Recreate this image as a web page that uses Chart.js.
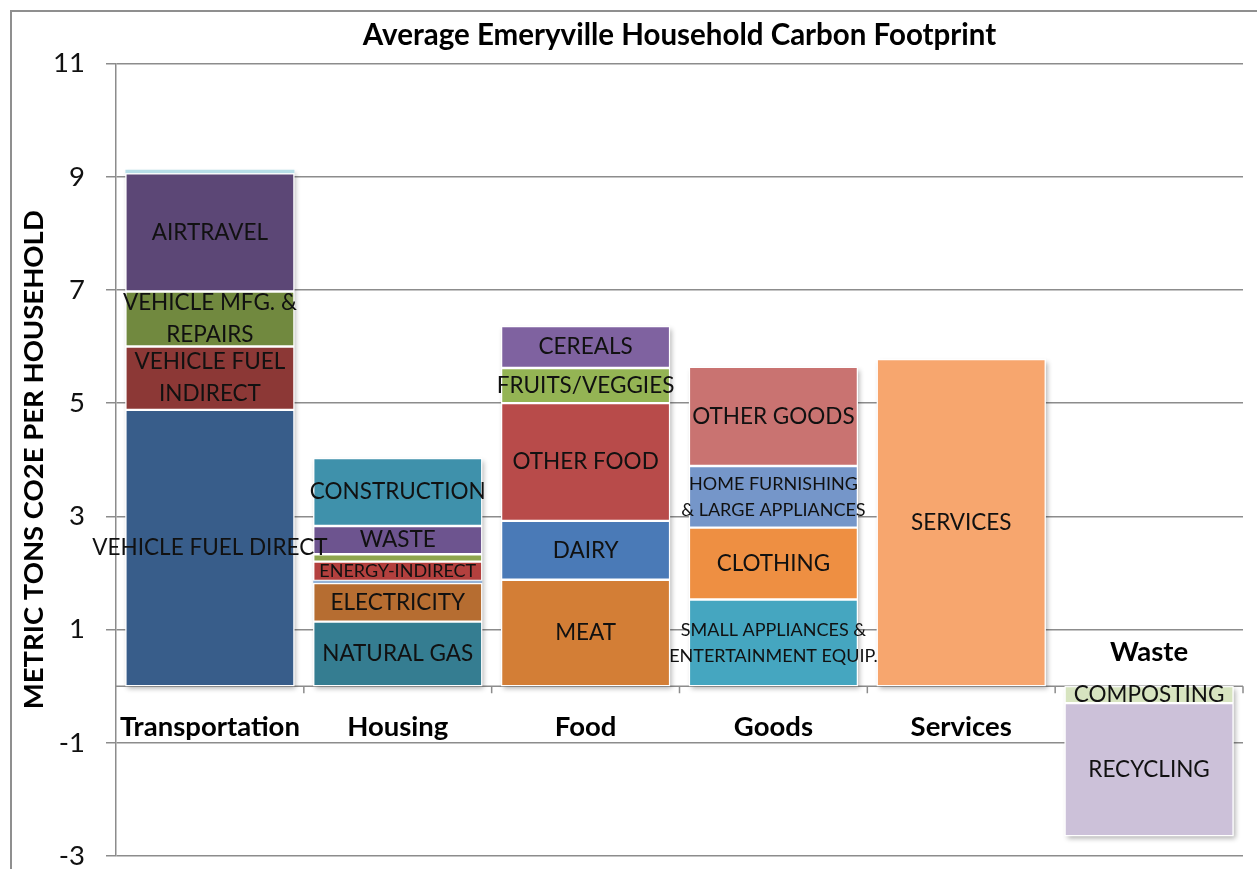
<!DOCTYPE html>
<html>
<head>
<meta charset="utf-8">
<title>Average Emeryville Household Carbon Footprint</title>
<script src="https://cdn.jsdelivr.net/npm/chart.js@4.4.1/dist/chart.umd.min.js"></script>
<style>
  html, body { margin: 0; padding: 0; background: #fff; }
  #wrap { width: 1257px; height: 869px; }
</style>
</head>
<body>
<div id="wrap"><canvas id="footprintChart"></canvas></div>
<script>
// Categories along the x axis
const categories = ['Transportation', 'Housing', 'Food', 'Goods', 'Services', 'Waste'];

// Stacked segments: name, category index and size (metric tons CO2e per household)
const segmentNames = [
    'VEHICLE FUEL DIRECT', 'VEHICLE FUEL\nINDIRECT', 'VEHICLE MFG. &\nREPAIRS', 'AIRTRAVEL', '',
    'NATURAL GAS', 'ELECTRICITY', '', 'ENERGY-INDIRECT', '', 'WASTE', 'CONSTRUCTION',
    'MEAT', 'DAIRY', 'OTHER FOOD', 'FRUITS/VEGGIES', 'CEREALS',
    'SMALL APPLIANCES &\nENTERTAINMENT EQUIP.', 'CLOTHING', 'HOME FURNISHING\n& LARGE APPLIANCES', 'OTHER GOODS',
    'SERVICES',
    'COMPOSTING', 'RECYCLING'
];
const segmentCategory = [0, 0, 0, 0, 0, 1, 1, 1, 1, 1, 1, 1, 2, 2, 2, 2, 2, 3, 3, 3, 3, 4, 5, 5];
const segmentValues = [
    4.88, 1.12, 0.97, 2.09, 0.06,
    1.14, 0.68, 0.04, 0.34, 0.13, 0.50, 1.20,
    1.88, 1.04, 2.08, 0.62, 0.74,
    1.53, 1.27, 1.09, 1.75,
    5.78,
    -0.30, -2.35
];

// Y axis range and tick step
const yMin = -3;
const yMax = 11;
const yStep = 2;

// Styling
const segmentColors = [
    '#385d8a', '#8c3836', '#71893f', '#5c4776', '#b7dee8',
    '#357d91', '#b66d31', '#95b3d7', '#b3403e', '#8ea54e', '#6d548f', '#3f91ab',
    '#d37e36', '#4a7ab7', '#b84b4a', '#94b454', '#7f62a0',
    '#45a6c0', '#ee8f42', '#7596c9', '#c97371',
    '#f7a66e',
    '#d7e4c0', '#ccc1d9'
];
const smallLabels = ['ENERGY-INDIRECT', 'SMALL APPLIANCES &\nENTERTAINMENT EQUIP.', 'HOME FURNISHING\n& LARGE APPLIANCES'];
const gridColor = '#8c8c8c';
const fontFamily = 'Lato, "Open Sans", sans-serif';

// One dataset per segment, holding a value only in its own category
const datasets = segmentNames.map((name, i) => ({
    label: name,
    data: categories.map((c, j) => (j === segmentCategory[i] ? segmentValues[i] : null)),
    backgroundColor: segmentColors[i],
    borderColor: '#ffffff',
    borderWidth: Math.abs(segmentValues[i]) < 0.1 ? 0 : 1.2,
    borderSkipped: false,
    barPercentage: 0.9,
    categoryPercentage: 1.0,
    stack: 'total'
}));

// Grey frame around the whole chart
const framePlugin = {
    id: 'frame',
    beforeDraw(chart) {
        const ctx = chart.ctx;
        ctx.save();
        ctx.strokeStyle = '#8f8f8f';
        ctx.lineWidth = 2;
        ctx.strokeRect(11, 11, chart.width + 20, chart.height + 20);
        ctx.restore();
    }
};

// Zero line with category tick marks, plus a soft shadow behind each stacked bar
const zeroAxisPlugin = {
    id: 'zeroAxis',
    beforeDatasetsDraw(chart) {
        const { ctx, chartArea, scales: { x, y } } = chart;
        const zero = y.getPixelForValue(0);
        ctx.save();
        ctx.strokeStyle = gridColor;
        ctx.lineWidth = 1.5;
        ctx.beginPath();
        ctx.moveTo(chartArea.left, zero);
        ctx.lineTo(chartArea.right, zero);
        for (let j = 1; j <= categories.length; j++) {
            const bx = j === categories.length
                ? chartArea.right
                : (x.getPixelForValue(j - 1) + x.getPixelForValue(j)) / 2;
            ctx.moveTo(bx, zero);
            ctx.lineTo(bx, zero + 7);
        }
        ctx.stroke();

        ctx.shadowColor = 'rgba(0, 0, 0, 0.3)';
        ctx.shadowBlur = 5;
        ctx.shadowOffsetX = 2;
        ctx.shadowOffsetY = 3;
        ctx.fillStyle = '#ffffff';
        categories.forEach((c, j) => {
            let top = Infinity, bottom = -Infinity, left = 0, right = 0;
            chart.data.datasets.forEach((ds, i) => {
                if (segmentCategory[i] !== j) return;
                const bar = chart.getDatasetMeta(i).data[j];
                top = Math.min(top, bar.y, bar.base);
                bottom = Math.max(bottom, bar.y, bar.base);
                left = bar.x - bar.width / 2;
                right = bar.x + bar.width / 2;
            });
            ctx.fillRect(left, top, right - left, bottom - top);
        });
        ctx.restore();
    }
};

// Segment names written in the middle of each segment
const segmentLabelPlugin = {
    id: 'segmentLabels',
    afterDatasetsDraw(chart) {
        const ctx = chart.ctx;
        ctx.save();
        ctx.fillStyle = '#111111';
        ctx.textAlign = 'center';
        ctx.textBaseline = 'middle';
        chart.data.datasets.forEach((ds, i) => {
            if (!ds.label) return;
            const bar = chart.getDatasetMeta(i).data[segmentCategory[i]];
            const small = smallLabels.includes(ds.label);
            const lineGap = small ? 26 : 32;
            ctx.font = (small ? 18 : 22.5) + 'px ' + fontFamily;
            const lines = ds.label.split('\n');
            const cy = (bar.y + bar.base) / 2;
            lines.forEach((line, k) => {
                ctx.fillText(line, bar.x, cy + (k - (lines.length - 1) / 2) * lineGap);
            });
        });
        ctx.restore();
    }
};

// Category names under the zero line (above it for a negative stack)
const categoryLabelPlugin = {
    id: 'categoryLabels',
    afterDraw(chart) {
        const { ctx, scales: { x, y } } = chart;
        const zero = y.getPixelForValue(0);
        ctx.save();
        ctx.font = 'bold 27.5px ' + fontFamily;
        ctx.fillStyle = '#000000';
        ctx.textAlign = 'center';
        ctx.textBaseline = 'middle';
        categories.forEach((cat, j) => {
            const total = segmentValues.reduce((s, v, i) => s + (segmentCategory[i] === j ? v : 0), 0);
            const cy = total < 0 ? zero - 34 : zero + 41;
            ctx.fillText(cat, x.getPixelForValue(j), cy);
        });
        ctx.restore();
    }
};

const ctx = document.getElementById('footprintChart').getContext('2d');
const footprintChart = new Chart(ctx, {
    type: 'bar',
    data: { labels: categories, datasets: datasets },
    options: {
        responsive: true,
        maintainAspectRatio: false,
        animation: false,
        layout: { padding: { left: 0, right: 14, top: 0, bottom: 13 } },
        scales: {
            x: {
                stacked: true,
                display: false
            },
            y: {
                stacked: true,
                min: yMin,
                max: yMax,
                ticks: {
                    stepSize: yStep,
                    padding: 21,
                    color: '#111111',
                    font: { family: fontFamily, size: 27.5 }
                },
                grid: { color: gridColor, lineWidth: 1.5, tickLength: 10 },
                border: { color: gridColor, width: 1.5 },
                title: {
                    display: true,
                    text: 'METRIC TONS CO2E PER HOUSEHOLD',
                    color: '#000000',
                    font: { family: fontFamily, size: 27.5, weight: 'bold' },
                    padding: { top: 18, bottom: 0 }
                },
                afterFit(scale) {
                    scale.width = 116;
                    scale.paddingTop = 0;
                    scale.paddingBottom = 0;
                }
            }
        },
        plugins: {
            legend: { display: false },
            tooltip: { enabled: false },
            title: {
                display: true,
                fullSize: false,
                text: 'Average Emeryville Household Carbon Footprint',
                color: '#000000',
                font: { family: fontFamily, size: 29.5, weight: 'bold' },
                padding: { top: 18, bottom: 10 }
            }
        }
    },
    plugins: [framePlugin, zeroAxisPlugin, segmentLabelPlugin, categoryLabelPlugin]
});
</script>
</body>
</html>
